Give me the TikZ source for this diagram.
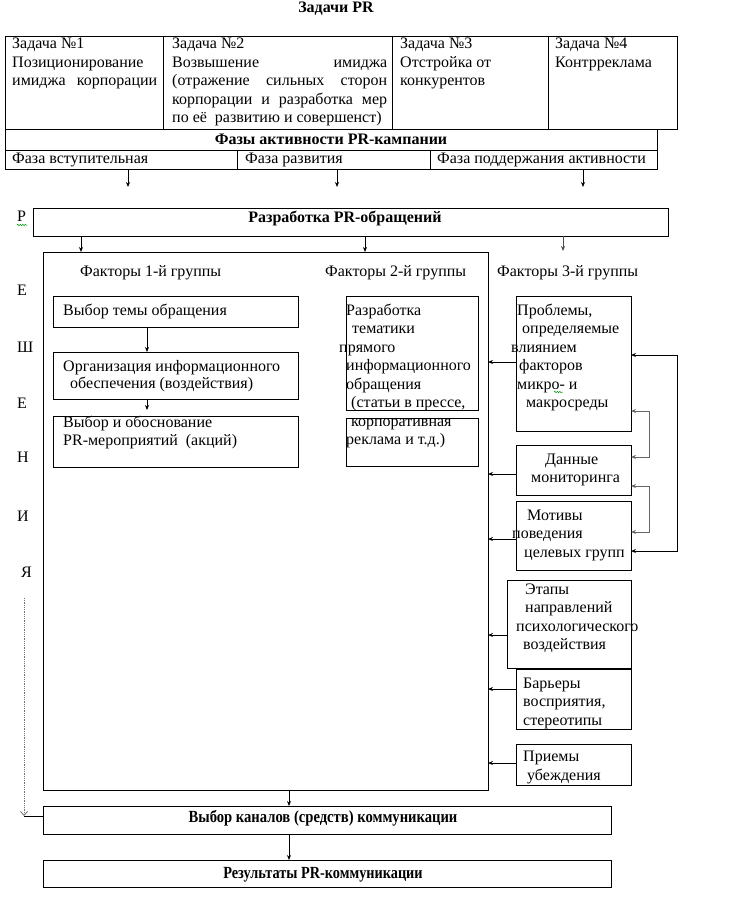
\documentclass[tikz,border=0pt]{standalone}
\usepackage{fontspec}
\setmainfont{Liberation Serif}
\usetikzlibrary{arrows.meta,decorations.pathmorphing}
\begin{document}
\begin{tikzpicture}[x=1pt,y=-1pt,
  txt/.style={anchor=base west,inner sep=0pt,font=\fontsize{16}{18}\selectfont},
  btxt/.style={anchor=base,inner sep=0pt,font=\fontsize{16}{18}\selectfont\bfseries},
  ntxt/.style={anchor=base,inner sep=0pt,font=\fontsize{17}{18}\selectfont\bfseries},
  box/.style={draw,line width=0.9pt,inner sep=0pt,outer sep=0pt,anchor=north west},
  arr/.style={-{Stealth[length=5pt,width=4pt]},line width=0.8pt},
  fb/.style={{Stealth[length=5pt,width=4pt]}-{Stealth[length=5pt,width=4pt]},line width=0.9pt},
  spell/.style={green!60!black,line width=0.5pt,decorate,decoration={snake,amplitude=0.7pt,segment length=2.5pt}},
  ]
\useasboundingbox (0,0) rectangle (735,915);
\fill[white] (0,0) rectangle (735,915);

% title
\node[btxt] (title) at (336,13) {Задачи PR};

% top table
\node[box,minimum width=158pt,minimum height=93pt] (t1) at (5,36) {};
\node[box,minimum width=229pt,minimum height=93pt] (t2) at (163,36) {};
\node[box,minimum width=156pt,minimum height=93pt] (t3) at (392,36) {};
\node[box,minimum width=129pt,minimum height=93pt] (t4) at (548,36) {};
\node[box,minimum width=652pt,minimum height=21pt] (ph) at (5,129) {};
\node[box,minimum width=232pt,minimum height=19pt] (f1) at (5,150) {};
\node[box,minimum width=193pt,minimum height=19pt] (f2) at (237,150) {};
\node[box,minimum width=227pt,minimum height=19pt] (f3) at (430,150) {};

\foreach \xx/\yy/\tt [count=\i] in {
  12/49/{Задача №1}, 12/67.5/{Позиционирование}, 12/86/{\makebox[145pt][s]{имиджа корпорации}},
  172/49/{Задача №2}, 172/67.5/{\makebox[215pt][s]{Возвышение имиджа}},
  172/86/{\makebox[215pt][s]{(отражение сильных сторон}},
  172/104.5/{\makebox[215pt][s]{корпорации и разработка мер}},
  172/123/{по её\ \ развитию и совершенст)},
  400/49/{Задача №3}, 400/67.5/{Отстройка от}, 400/86/{конкурентов},
  555/49/{Задача №4}, 555/67.5/{Контрреклама},
  12/164/{Фаза вступительная}, 245/164/{Фаза развития}, 437/164/{Фаза поддержания активности}}
  \node[txt] (tt\i) at (\xx,\yy) {\tt};
\node[btxt] (phtxt) at (331,144) {Фазы активности PR-кампании};

% phase arrows
\coordinate (pa1) at (128,187);
\coordinate (pa2) at (337,187);
\coordinate (pa3) at (583,187);
\draw[arr] (pa1 |- f1.south) -- (pa1);
\draw[arr] (pa2 |- f2.south) -- (pa2);
\draw[arr] (pa3 |- f3.south) -- (pa3);

% development box
\node[box,minimum width=635pt,minimum height=28pt] (rz) at (33,208) {};
\node[btxt] (rztxt) at (345,222) {Разработка PR-обращений};

% big box
\node[box,minimum width=445pt,minimum height=538pt] (big) at (43,252) {};
\coordinate (g3) at (563,251);
\draw[arr] (81,0 |- rz.south) -- (81,0 |- big.north);
\draw[arr] (365,0 |- rz.south) -- (365,0 |- big.north);
\draw[arr,black!70] (g3 |- rz.south) -- (g3);

\node[txt] (fac1) at (80,276) {Факторы 1-й группы};
\node[txt] (fac2) at (325,276) {Факторы 2-й группы};
\node[txt] (fac3) at (497,276) {Факторы 3-й группы};

% left column
\node[box,minimum width=245pt,minimum height=31pt] (l1) at (53,296) {};
\node[box,minimum width=245pt,minimum height=47pt] (l2) at (53,352) {};
\node[box,minimum width=245pt,minimum height=51pt] (l3) at (53,416) {};
\coordinate (l3a) at (147,410);
\draw[arr] (147,0 |- l1.south) -- (147,0 |- l2.north);
\draw[arr] (l3a |- l2.south) -- (l3a);
\foreach \xx/\yy/\tt [count=\i] in {
  63/315/{Выбор темы обращения},
  63/371/{Организация информационного}, 70/388/{обеспечения (воздействия)},
  63/427/{Выбор и обоснование}, 63/445/{PR-мероприятий\ \ (акций)}}
  \node[txt] (lt\i) at (\xx,\yy) {\tt};

% middle column
\node[box,minimum width=132pt,minimum height=114pt] (m1) at (346,296) {};
\node[box,minimum width=132pt,minimum height=48pt] (m2) at (346,418) {};
\foreach \xx/\yy/\tt [count=\i] in {
  346/315/{Разработка}, 352/333.5/{тематики}, 339/352/{прямого},
  346/370.5/{информационного}, 346/389/{обращения}, 351/407.5/{(статьи в прессе,},
  351/426/{корпоративная}, 346/444.5/{реклама и т.д.)}}
  \node[txt] (mt\i) at (\xx,\yy) {\tt};

% right column
\node[box,minimum width=115pt,minimum height=135pt] (r1) at (516,296) {};
\node[box,minimum width=115pt,minimum height=50pt] (r2) at (516,445) {};
\node[box,minimum width=115pt,minimum height=69pt] (r3) at (516,501) {};
\node[box,minimum width=124pt,minimum height=88pt] (r4) at (507,580) {};
\node[box,minimum width=115pt,minimum height=60pt] (r5) at (516,669) {};
\node[box,minimum width=115pt,minimum height=41pt] (r6) at (516,744) {};
\foreach \xx/\yy/\tt [count=\i] in {
  517/315/{Проблемы,}, 522/333.5/{определяемые}, 511/352/{влиянием},
  519/370.5/{факторов}, 517/389/{микро- и}, 526/407.5/{макросреды},
  545/464/{Данные}, 531/482/{мониторинга},
  527/520/{Мотивы}, 512/538.5/{поведения}, 524/557/{целевых групп},
  525/594/{Этапы}, 525/612.5/{направлений}, 516/631/{психологического}, 523/649.5/{воздействия},
  523/688/{Барьеры}, 523/706.5/{восприятия,}, 523/725/{стереотипы},
  523/761/{Приемы}, 527/780/{убеждения}}
  \node[txt] (rt\i) at (\xx,\yy) {\tt};
\draw[spell] (554,392) -- (563,392);

% arrows from right column into big box
\foreach \r/\yy in {r1/362, r2/474, r3/539, r4/635, r5/689, r6/763}
  \draw[arr] (\r.west |- 0,\yy) -- (big.east |- 0,\yy);

% feedback connectors
\draw[fb] (r1.east |- 0,355) -- (677,355) -- (677,551) -- (r3.east |- 0,551);
\draw[fb,black!60] (r1.east |- 0,411) -- (649,411) -- (649,457) -- (r2.east |- 0,457);
\draw[fb,black!60] (r2.east |- 0,486) -- (649,486) -- (649,532) -- (r3.east |- 0,532);

% bottom
\node[box,minimum width=568pt,minimum height=28pt] (kan) at (43,806) {};
\node[box,minimum width=568pt,minimum height=27pt] (res) at (43,860) {};
\node[ntxt] (kantxt) at (323,822) {\scalebox{0.86}[1]{Выбор каналов (средств) коммуникации}};
\node[ntxt] (restxt) at (323,878) {\scalebox{0.84}[1]{Результаты PR-коммуникации}};
\draw[arr] (289,0 |- big.south) -- (289,0 |- kan.north);
\draw[arr] (289,0 |- kan.south) -- (289,0 |- res.north);

% left vertical word
\foreach \xx/\yy/\tt [count=\i] in {17/221/Р, 17/295/Е, 17/352/Ш, 17/408/Е, 17/462/Н, 17/521/И, 21/577/Я}
  \node[txt] (v\i) at (\xx,\yy) {\tt};
\draw[spell] (17,225) -- (27,225);
\coordinate (d1) at (24,598);
\coordinate (d2) at (24,816);
\draw[densely dotted,black!55,line width=0.8pt,-{Straight Barb[length=4pt,width=7pt]}] (d1) -- (d2);
\draw[line width=0.8pt] (d2 -| kan.west) -- (d2);
\end{tikzpicture}
\end{document}
